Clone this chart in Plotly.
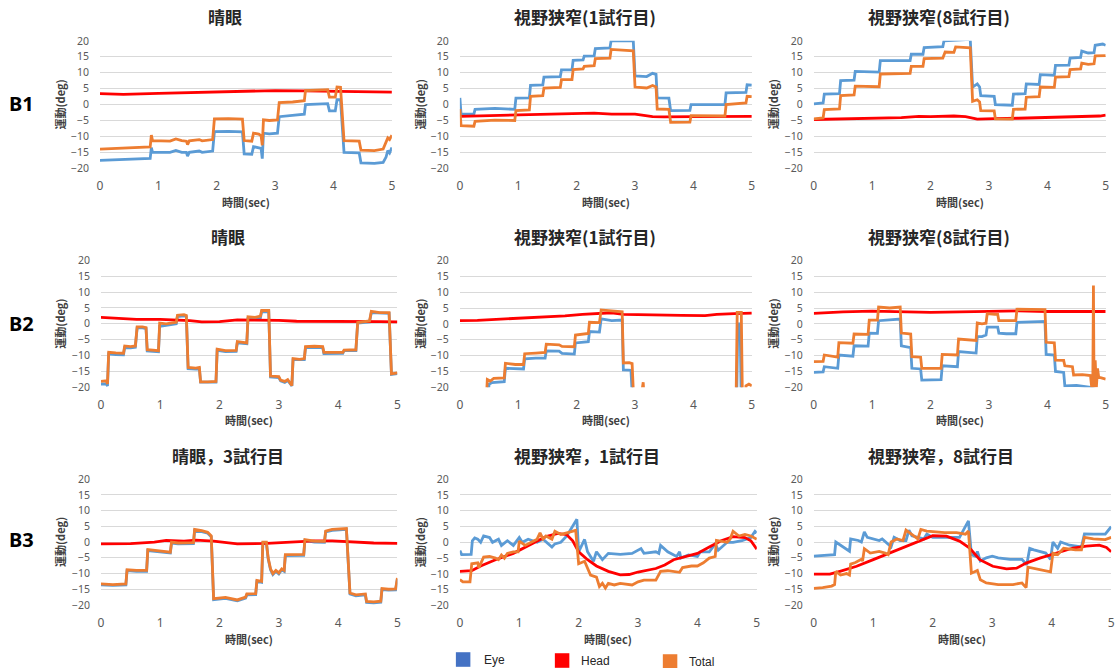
import plotly.graph_objects as go

# ---------------------------------------------------------------------------
# Eye / Head / Total rotation traces (deg) against time (sec), as (t, value)
# ---------------------------------------------------------------------------

# B1 - 晴眼
b1_sighted_eye = [(0, -17.5), (0.3, -17.3), (0.6, -17.0), (0.86, -16.9), (0.88, -13.5), (0.9, -15.0),
                  (1.2, -15.0), (1.3, -14.4), (1.4, -15.0), (1.48, -15.0), (1.5, -16.2), (1.53, -15.0),
                  (1.7, -14.6), (1.75, -15.0), (1.93, -14.6), (1.96, -8.5), (2.2, -8.4), (2.44, -8.6),
                  (2.47, -15.5), (2.6, -15.6), (2.63, -13.2), (2.72, -13.5), (2.76, -13.8), (2.78, -17.0),
                  (2.8, -9.0), (2.9, -9.2), (3.04, -9.0), (3.07, -3.8), (3.3, -3.4), (3.5, -3.0),
                  (3.52, 0.0), (3.7, 0.2), (3.9, 0.3), (3.93, -2.0), (4.03, -2.0), (4.06, 1.5),
                  (4.12, 1.5), (4.18, -15.0), (4.3, -15.2), (4.44, -15.2), (4.47, -18.3), (4.7, -18.5),
                  (4.85, -18.2), (4.9, -16.5), (4.93, -14.5), (4.96, -15.2), (5.0, -13.5)]
b1_sighted_head = [(0, 3.4), (0.4, 3.2), (1.0, 3.5), (2.0, 3.9), (3.0, 4.4), (3.5, 4.3), (4.0, 4.2),
                   (4.5, 4.0), (5, 3.9)]
b1_sighted_total = [(0, -14.0), (0.3, -13.8), (0.6, -13.5), (0.86, -13.3), (0.88, -9.6), (0.9, -11.3),
                    (1.2, -11.5), (1.3, -10.8), (1.4, -11.3), (1.48, -11.5), (1.5, -12.6), (1.53, -11.4),
                    (1.7, -11.0), (1.75, -11.4), (1.93, -11.0), (1.96, -4.5), (2.2, -4.4), (2.44, -4.6),
                    (2.47, -11.3), (2.6, -11.5), (2.63, -9.0), (2.72, -9.3), (2.76, -9.8), (2.78, -12.8),
                    (2.8, -4.8), (2.9, -5.0), (3.04, -4.8), (3.07, 0.6), (3.3, 0.8), (3.5, 1.2),
                    (3.52, 4.4), (3.7, 4.5), (3.9, 4.7), (3.93, 2.3), (4.03, 2.3), (4.06, 5.5),
                    (4.12, 5.4), (4.18, -11.3), (4.3, -11.4), (4.44, -11.5), (4.47, -14.3), (4.7, -14.5),
                    (4.85, -14.0), (4.9, -11.5), (4.93, -10.5), (4.96, -11.0), (5.0, -9.6)]

# B1 - 視野狭窄(1試行目)
b1_narrow1_eye = [(0, 2.1), (0.02, -3.0), (0.24, -3.0), (0.26, -1.5), (0.6, -1.2), (0.94, -1.5), (0.96, 2.0),
                  (1.19, 2.1), (1.21, 6.0), (1.42, 6.2), (1.44, 8.6), (1.72, 8.8), (1.74, 10.9), (1.92, 10.9),
                  (1.94, 13.9), (2.11, 14.0), (2.13, 15.2), (2.3, 15.3), (2.32, 17.6), (2.57, 17.8),
                  (2.59, 20.0), (2.97, 20.0), (3.0, 9.0), (3.2, 8.8), (3.3, 9.8), (3.36, 9.5), (3.38, 2.1),
                  (3.58, 2.0), (3.61, -1.9), (3.94, -1.8), (3.96, 0.0), (4.3, 0.1), (4.54, 0.0), (4.56, 3.7),
                  (4.9, 3.8), (4.92, 6.2), (5, 6.1)]
b1_narrow1_head = [(0, -3.7), (0.5, -3.5), (1.0, -3.4), (1.5, -3.2), (2.0, -2.9), (2.3, -2.7), (2.6, -3.0),
                   (3.0, -3.0), (3.3, -3.8), (3.5, -3.9), (4.0, -3.8), (4.5, -3.7), (5, -3.7)]
b1_narrow1_total = [(0, -1.4), (0.02, -6.6), (0.24, -6.8), (0.26, -5.3), (0.6, -4.9), (0.94, -5.0),
                    (0.96, -1.9), (1.19, -1.7), (1.21, 2.6), (1.42, 2.8), (1.44, 5.2), (1.72, 5.4),
                    (1.74, 7.8), (1.92, 7.8), (1.94, 11.0), (2.11, 11.2), (2.13, 12.0), (2.3, 12.2),
                    (2.32, 14.4), (2.57, 14.6), (2.59, 17.3), (2.97, 16.9), (3.0, 5.5), (3.2, 5.2),
                    (3.3, 6.0), (3.36, 5.5), (3.38, -1.4), (3.58, -1.5), (3.61, -5.6), (3.94, -5.5),
                    (3.96, -3.5), (4.3, -3.6), (4.54, -3.6), (4.56, 0.0), (4.9, 0.5), (4.92, 2.6), (5, 2.5)]

# B1 - 視野狭窄(8試行目)
b1_narrow8_eye = [(0, 0.2), (0.16, 0.5), (0.18, 3.3), (0.44, 3.4), (0.46, 7.5), (0.69, 7.7), (0.71, 10.4),
                  (1.12, 10.2), (1.14, 13.8), (1.65, 13.8), (1.67, 15.8), (1.87, 15.8), (1.89, 17.9),
                  (2.21, 18.2), (2.23, 20.0), (2.4, 20.2), (2.68, 20.5), (2.72, 5.5), (2.8, 6.5),
                  (2.84, 5.5), (2.86, 2.8), (3.09, 2.6), (3.11, 0.0), (3.4, -0.2), (3.42, 3.3), (3.62, 3.4),
                  (3.64, 6.5), (3.86, 6.3), (3.88, 9.4), (4.12, 9.2), (4.14, 12.3), (4.37, 12.4),
                  (4.39, 14.6), (4.57, 14.8), (4.59, 16.8), (4.7, 16.2), (4.8, 16.3), (4.82, 18.6),
                  (4.95, 19.0), (5, 18.6)]
b1_narrow8_head = [(0, -4.7), (0.5, -4.5), (1.0, -4.4), (1.5, -4.1), (1.8, -3.7), (2.0, -3.8), (2.4, -3.6),
                   (2.6, -3.8), (2.8, -4.6), (2.9, -4.6), (3.1, -4.4), (3.5, -4.3), (4.0, -4.0), (4.5, -3.8),
                   (4.9, -3.6), (5, -3.3)]
b1_narrow8_total = [(0, -4.5), (0.16, -4.2), (0.18, -1.6), (0.44, -1.4), (0.46, 2.8), (0.69, 3.0),
                    (0.71, 5.8), (1.12, 5.6), (1.14, 9.6), (1.65, 9.8), (1.67, 12.0), (1.87, 12.0),
                    (1.89, 14.4), (2.21, 14.6), (2.25, 16.5), (2.4, 16.4), (2.43, 18.1), (2.68, 17.8),
                    (2.72, 1.0), (2.8, 1.5), (2.84, 0.8), (2.86, -1.9), (3.09, -2.0), (3.11, -4.5),
                    (3.4, -4.6), (3.42, -1.5), (3.62, -1.4), (3.64, 2.3), (3.86, 2.5), (3.88, 5.5),
                    (4.12, 5.4), (4.14, 8.6), (4.37, 8.8), (4.39, 11.0), (4.57, 11.2), (4.59, 13.0),
                    (4.7, 12.6), (4.8, 12.8), (4.82, 15.3), (5, 15.4)]

# B2 - 晴眼
b2_sighted_eye = [(0, -19.0), (0.09, -19.0), (0.11, -19.6), (0.13, -9.5), (0.25, -9.7), (0.38, -9.8),
                  (0.4, -7.5), (0.5, -7.6), (0.58, -7.4), (0.61, -1.3), (0.7, -1.3), (0.76, -1.5),
                  (0.78, -8.6), (0.9, -8.7), (0.97, -8.8), (0.99, -0.8), (1.1, -0.4), (1.27, 0.0),
                  (1.29, 2.3), (1.4, 2.5), (1.44, 2.3), (1.47, -14.2), (1.6, -14.3), (1.66, -14.2),
                  (1.68, -18.4), (1.8, -18.5), (1.94, -18.4), (1.96, -8.4), (2.1, -8.8), (2.28, -8.7),
                  (2.3, -6.0), (2.46, -6.3), (2.48, 1.7), (2.6, 1.6), (2.69, 1.9), (2.71, 3.8),
                  (2.83, 3.8), (2.86, -16.8), (3.0, -17.0), (3.03, -18.0), (3.1, -18.5), (3.15, -17.9),
                  (3.2, -19.0), (3.22, -19.6), (3.24, -11.3), (3.35, -11.4), (3.43, -11.3), (3.45, -7.5),
                  (3.6, -7.4), (3.74, -7.5), (3.76, -9.4), (3.9, -9.4), (4.08, -9.3), (4.1, -8.5),
                  (4.3, -8.5), (4.33, 0.2), (4.45, 0.4), (4.53, 0.6), (4.56, 3.5), (4.7, 3.3),
                  (4.86, 3.3), (4.9, -16.0), (5, -15.7)]
b2_sighted_head = [(0, 2.0), (0.3, 1.8), (0.6, 1.4), (1.0, 1.4), (1.3, 1.3), (1.5, 1.0), (1.7, 0.6),
                   (2.0, 0.7), (2.3, 1.2), (2.7, 1.2), (3.0, 1.1), (3.3, 0.8), (3.7, 0.8), (4.0, 0.9),
                   (4.4, 0.8), (4.7, 0.7), (5, 0.6)]
b2_sighted_total = [(0, -18.2), (0.09, -18.0), (0.11, -19.0), (0.13, -9.0), (0.25, -9.2), (0.38, -9.3),
                    (0.4, -7.0), (0.5, -7.2), (0.58, -7.0), (0.61, -1.0), (0.7, -1.0), (0.76, -1.2),
                    (0.78, -8.2), (0.9, -8.3), (0.97, -8.5), (0.99, 0.2), (1.1, 0.0), (1.27, 0.5),
                    (1.29, 2.7), (1.4, 2.9), (1.44, 2.6), (1.47, -13.8), (1.6, -14.0), (1.66, -13.8),
                    (1.68, -18.3), (1.8, -18.3), (1.94, -18.2), (1.96, -8.0), (2.1, -8.5), (2.28, -8.4),
                    (2.3, -5.6), (2.46, -6.0), (2.48, 2.2), (2.6, 2.0), (2.69, 2.4), (2.71, 4.2),
                    (2.83, 4.2), (2.86, -16.5), (3.0, -16.7), (3.03, -17.8), (3.1, -18.2), (3.15, -17.6),
                    (3.2, -18.8), (3.22, -19.5), (3.24, -11.0), (3.35, -11.2), (3.43, -11.0), (3.45, -7.2),
                    (3.6, -7.1), (3.74, -7.2), (3.76, -9.0), (3.9, -9.1), (4.08, -9.0), (4.1, -8.3),
                    (4.3, -8.2), (4.33, 0.4), (4.45, 0.7), (4.53, 0.9), (4.56, 3.9), (4.7, 3.5),
                    (4.86, 3.5), (4.9, -15.8), (5, -15.5)]

# B2 - 視野狭窄(1試行目)
b2_narrow1_eye = [(0, -25), (0.47, -25), (0.5, -19.0), (0.55, -18.5), (0.76, -18.2), (0.78, -14.0),
                  (1.09, -14.2), (1.11, -11.0), (1.3, -10.8), (1.46, -10.8), (1.48, -8.5), (1.7, -8.6),
                  (1.75, -9.3), (1.96, -9.5), (1.98, -6.0), (2.2, -5.6), (2.22, -2.4), (2.39, -2.6),
                  (2.42, 1.6), (2.6, 1.0), (2.78, 1.2), (2.8, -14.5), (2.93, -14.6), (2.96, -25),
                  (4.74, -25), (4.76, 0.0), (4.8, 0.0), (4.82, -25), (5, -25)]
b2_narrow1_head = [(0, 1.0), (0.3, 1.1), (0.7, 1.5), (1.0, 1.8), (1.5, 2.1), (1.8, 2.5), (2.1, 3.0),
                   (2.4, 3.3), (2.6, 3.5), (2.8, 3.0), (3.2, 2.8), (3.8, 2.7), (4.2, 2.6), (4.4, 3.0),
                   (4.7, 3.2), (5, 3.4)]
b2_narrow1_total = [(0, -25), (0.45, -25), (0.47, -17.5), (0.52, -18.0), (0.58, -17.2), (0.76, -17.0),
                    (0.78, -12.4), (0.95, -12.8), (1.09, -12.8), (1.11, -9.4), (1.3, -9.2), (1.46, -9.0),
                    (1.48, -6.4), (1.7, -6.6), (1.75, -7.1), (1.96, -7.2), (1.98, -3.5), (2.1, -3.3),
                    (2.2, -3.0), (2.22, 0.5), (2.39, 0.4), (2.42, 4.4), (2.6, 4.0), (2.78, 3.8),
                    (2.8, -12.3), (2.9, -12.2), (2.95, -12.5), (2.98, -25), (3.12, -21), (3.14, -18.4),
                    (3.16, -25), (4.73, -25), (4.75, 3.6), (4.82, 3.6), (4.84, -25), (4.88, -25),
                    (4.9, -19.5), (4.95, -19.0), (5, -19.5)]

# B2 - 視野狭窄(8試行目)
b2_narrow8_eye = [(0, -15.3), (0.16, -15.1), (0.18, -13.5), (0.3, -13.8), (0.41, -14.0), (0.43, -9.8),
                  (0.6, -10.0), (0.67, -10.2), (0.69, -6.9), (0.8, -7.0), (0.93, -7.0), (0.95, -2.9),
                  (1.09, -3.0), (1.11, 1.0), (1.3, 1.2), (1.48, 1.5), (1.5, -6.9), (1.6, -7.2),
                  (1.66, -7.5), (1.68, -14.0), (1.83, -14.2), (1.85, -17.7), (2.0, -17.6), (2.18, -17.6),
                  (2.2, -13.2), (2.35, -13.3), (2.46, -13.5), (2.48, -8.7), (2.65, -9.0), (2.78, -9.2),
                  (2.8, -4.0), (2.88, -4.0), (2.95, -3.5), (2.97, -1.0), (3.15, -1.0), (3.17, -2.9),
                  (3.3, -3.1), (3.46, -3.1), (3.48, 0.5), (3.7, 0.6), (3.96, 0.8), (3.98, -9.6),
                  (4.12, -9.8), (4.14, -15.0), (4.28, -15.3), (4.3, -19.5), (4.5, -19.4), (4.74, -20.0),
                  (4.8, -20.5), (4.9, -21.0), (5, -22.0)]
b2_narrow8_head = [(0, 3.3), (0.5, 3.8), (1.0, 4.0), (1.5, 3.8), (2.0, 3.6), (2.5, 3.8), (3.0, 4.0),
                   (3.5, 4.1), (4.0, 3.9), (4.5, 3.8), (5, 3.9)]
b2_narrow8_total = [(0, -11.9), (0.16, -11.8), (0.18, -9.8), (0.3, -10.2), (0.41, -10.5), (0.43, -5.9),
                    (0.6, -6.0), (0.67, -6.1), (0.69, -3.2), (0.8, -3.2), (0.93, -3.3), (0.95, 1.2),
                    (1.09, 1.2), (1.11, 5.3), (1.3, 5.0), (1.48, 5.3), (1.5, -2.9), (1.6, -3.1),
                    (1.66, -3.2), (1.68, -10.3), (1.83, -10.5), (1.85, -14.0), (2.0, -14.0), (2.18, -14.0),
                    (2.2, -9.6), (2.35, -9.8), (2.46, -9.8), (2.48, -4.8), (2.65, -5.0), (2.78, -5.2),
                    (2.8, 0.3), (2.88, 0.0), (2.95, 0.2), (2.97, 3.2), (3.1, 3.0), (3.15, 3.0),
                    (3.17, 1.0), (3.3, 1.0), (3.46, 1.0), (3.48, 4.6), (3.7, 4.6), (3.96, 4.5),
                    (3.98, -5.8), (4.1, -6.0), (4.12, -6.0), (4.14, -11.4), (4.28, -11.5), (4.3, -13.2),
                    (4.43, -13.5), (4.45, -16.1), (4.6, -16.0), (4.74, -16.3), (4.76, -20.0), (4.78, -16.0),
                    (4.79, 12.1), (4.8, -20.0), (4.82, -11.5), (4.84, -20.0), (4.86, -14.0), (4.88, -16.8),
                    (5, -17.4)]

# B3 - 晴眼，3試行目
b3_sighted_eye = [(0, -13.6), (0.2, -13.8), (0.42, -13.6), (0.44, -9.1), (0.6, -9.3), (0.77, -9.3),
                  (0.79, -2.7), (1.0, -3.2), (1.17, -3.5), (1.19, -0.3), (1.3, -0.6), (1.56, -0.5),
                  (1.58, 3.7), (1.7, 3.3), (1.8, 2.8), (1.86, 1.7), (1.9, -18.3), (2.1, -17.9),
                  (2.3, -18.7), (2.44, -17.8), (2.46, -16.8), (2.61, -16.7), (2.63, -12.5), (2.71, -12.8),
                  (2.73, -0.3), (2.79, -0.3), (2.82, -5.3), (2.86, -8.8), (2.9, -10.3), (2.95, -9.3),
                  (3.0, -10.1), (3.05, -8.8), (3.09, -9.3), (3.11, -4.3), (3.3, -4.1), (3.42, -4.2),
                  (3.44, 0.5), (3.6, 0.0), (3.77, -0.1), (3.79, 3.2), (3.9, 3.7), (4.14, 4.0),
                  (4.2, -16.5), (4.3, -17.1), (4.46, -16.8), (4.48, -19.2), (4.6, -19.3), (4.72, -19.1),
                  (4.74, -15.1), (4.85, -15.3), (4.97, -15.2), (5, -11.7)]
b3_sighted_head = [(0, -0.6), (0.5, -0.5), (0.9, 0.0), (1.1, 0.5), (1.4, 0.3), (1.6, 0.6), (1.9, 0.3),
                   (2.3, -0.6), (2.8, -0.4), (3.3, 0.0), (3.6, 0.4), (3.9, 0.4), (4.3, 0.0), (4.6, -0.3),
                   (5, -0.4)]
b3_sighted_total = [(0, -13.3), (0.2, -13.5), (0.42, -13.3), (0.44, -8.8), (0.6, -9.0), (0.77, -9.0),
                    (0.79, -2.4), (1.0, -2.9), (1.17, -3.2), (1.19, 0.0), (1.3, -0.3), (1.56, -0.2),
                    (1.58, 4.0), (1.7, 3.6), (1.8, 3.1), (1.86, 2.0), (1.9, -18.0), (2.1, -17.6),
                    (2.3, -18.4), (2.44, -17.5), (2.46, -16.5), (2.61, -16.4), (2.63, -12.2), (2.71, -12.5),
                    (2.73, 0.0), (2.79, 0.0), (2.82, -5.0), (2.86, -8.5), (2.9, -10.0), (2.95, -9.0),
                    (3.0, -9.8), (3.05, -8.5), (3.09, -9.0), (3.11, -4.0), (3.3, -3.8), (3.42, -3.9),
                    (3.44, 0.8), (3.6, 0.3), (3.77, 0.2), (3.79, 3.5), (3.9, 4.0), (4.14, 4.3),
                    (4.2, -16.2), (4.3, -16.8), (4.46, -16.5), (4.48, -18.9), (4.6, -19.0), (4.72, -18.8),
                    (4.74, -14.8), (4.85, -15.0), (4.97, -14.9), (5, -11.4)]

# B3 - 視野狭窄，1試行目
b3_narrow1_eye = [(0, -2.6), (0.03, -3.9), (0.19, -3.8), (0.21, 0.5), (0.25, 1.4), (0.3, 1.0), (0.35, 0.0),
                  (0.4, 2.0), (0.5, 1.5), (0.55, 0.0), (0.65, 1.0), (0.7, -1.0), (0.8, 0.5), (0.9, -1.0),
                  (1.0, 1.5), (1.05, 0.0), (1.15, 1.0), (1.3, 0.0), (1.4, 1.0), (1.5, -0.5), (1.55, -1.5),
                  (1.6, -0.5), (1.7, 0.0), (1.8, 2.0), (1.9, 5.0), (1.97, 7.3), (2.0, -3.0), (2.05, -1.0),
                  (2.1, 0.9), (2.15, -3.0), (2.25, -6.0), (2.3, -3.0), (2.4, -5.5), (2.5, -3.5),
                  (2.7, -3.8), (2.9, -3.5), (3.05, -2.0), (3.1, -3.5), (3.3, -3.0), (3.35, -3.5),
                  (3.38, -1.0), (3.5, -3.0), (3.65, -4.5), (3.7, -3.0), (3.72, -5.0), (3.85, -4.0),
                  (4.0, -4.5), (4.05, -3.0), (4.2, -3.0), (4.3, -0.5), (4.35, -2.5), (4.5, 0.0),
                  (4.6, 0.0), (4.75, 0.5), (4.9, 1.5), (4.97, 3.5), (5, 3.0)]
b3_narrow1_head = [(0, -9.2), (0.2, -9.0), (0.35, -7.5), (0.6, -5.5), (0.9, -3.5), (1.2, -0.5), (1.45, 1.8),
                   (1.65, 2.8), (1.8, 2.4), (1.9, 0.5), (2.0, -3.0), (2.15, -5.5), (2.3, -7.5), (2.5, -9.2),
                   (2.7, -10.3), (2.85, -10.2), (3.0, -9.4), (3.3, -8.3), (3.45, -7.2), (3.6, -5.5),
                   (3.8, -4.5), (4.0, -3.5), (4.2, -1.5), (4.4, 0.5), (4.6, 1.8), (4.8, 1.5), (4.9, 0.5),
                   (5.0, -2.2)]
b3_narrow1_total = [(0, -11.8), (0.05, -12.5), (0.17, -12.5), (0.2, -6.8), (0.3, -6.5), (0.32, -8.0),
                    (0.4, -4.7), (0.5, -4.5), (0.6, -5.0), (0.65, -5.5), (0.7, -4.0), (0.75, -5.0),
                    (0.8, -3.5), (0.9, -3.0), (0.98, -3.0), (1.0, 0.4), (1.1, -1.0), (1.2, 0.0),
                    (1.3, 1.0), (1.35, 3.0), (1.4, 1.0), (1.45, 2.0), (1.55, 1.0), (1.6, 3.5), (1.7, 2.5),
                    (1.8, 3.0), (1.95, 3.8), (2.0, -6.8), (2.1, -6.0), (2.2, -10.4), (2.3, -11.0),
                    (2.35, -14.0), (2.4, -13.0), (2.45, -14.5), (2.5, -13.0), (2.6, -13.5), (2.7, -13.0),
                    (2.9, -13.5), (3.0, -12.5), (3.1, -12.0), (3.3, -12.0), (3.38, -9.2), (3.5, -9.0),
                    (3.7, -9.5), (3.75, -8.0), (3.9, -7.5), (4.0, -7.5), (4.1, -6.5), (4.2, -5.0),
                    (4.3, -4.5), (4.32, 0.6), (4.5, 0.0), (4.55, 1.0), (4.6, 3.5), (4.7, 2.0),
                    (4.8, 2.5), (4.9, 2.0), (5, 1.0)]

# B3 - 視野狭窄，8試行目
b3_narrow8_eye = [(0, -4.5), (0.2, -4.3), (0.35, -4.0), (0.37, 0.0), (0.45, -1.0), (0.55, -2.0), (0.6, -2.9),
                  (0.62, 1.0), (0.75, 0.5), (0.8, 0.0), (0.85, 3.2), (0.9, 1.5), (1.0, 1.0), (1.1, 0.5),
                  (1.15, 1.0), (1.25, -0.5), (1.3, -1.5), (1.35, 1.5), (1.45, 0.5), (1.55, 0.5),
                  (1.6, 3.8), (1.65, 2.0), (1.75, 1.5), (1.85, 1.0), (1.9, 2.5), (2.0, 1.5), (2.2, 1.5),
                  (2.45, 1.5), (2.55, 5.0), (2.6, 6.7), (2.65, -4.0), (2.72, -4.5), (2.75, -3.0),
                  (2.8, -6.0), (2.9, -5.0), (3.0, -4.5), (3.1, -5.0), (3.3, -5.5), (3.5, -5.5),
                  (3.58, -7.2), (3.63, -2.0), (3.7, -2.5), (3.9, -3.5), (3.98, -5.5), (4.02, 0.0),
                  (4.1, -2.0), (4.15, 0.0), (4.3, -1.0), (4.5, -1.5), (4.55, 2.6), (4.7, 2.5),
                  (4.9, 2.5), (5.0, 4.9)]
b3_narrow8_head = [(0, -10.2), (0.27, -10.2), (0.44, -9.3), (0.72, -7.7), (1.0, -5.6), (1.28, -3.5),
                   (1.56, -1.3), (1.84, 0.8), (2.0, 2.0), (2.23, 1.9), (2.45, 0.3), (2.62, -1.9),
                   (2.79, -5.6), (3.01, -7.7), (3.24, -8.5), (3.41, -8.3), (3.57, -6.7), (3.8, -5.1),
                   (4.08, -3.5), (4.36, -1.9), (4.58, -1.3), (4.8, -1.0), (4.92, -1.7), (5.0, -3.1)]
b3_narrow8_total = [(0, -14.7), (0.15, -14.5), (0.3, -14.0), (0.35, -13.5), (0.37, -9.3), (0.45, -10.5),
                    (0.55, -10.0), (0.6, -10.5), (0.62, -7.0), (0.7, -6.5), (0.8, -5.5), (0.82, -6.0),
                    (0.85, -2.1), (0.95, -3.5), (1.1, -3.0), (1.2, -3.5), (1.25, -4.0), (1.3, 0.0),
                    (1.4, 1.0), (1.5, 0.5), (1.55, 3.8), (1.65, 2.5), (1.75, 1.0), (1.8, 4.0), (1.9, 3.5),
                    (2.2, 3.0), (2.4, 3.0), (2.55, 2.5), (2.6, 3.5), (2.65, -9.9), (2.75, -9.0),
                    (2.8, -12.0), (2.9, -13.0), (3.1, -13.5), (3.35, -13.5), (3.5, -13.0), (3.57, -14.5),
                    (3.6, -8.0), (3.75, -8.5), (3.9, -9.0), (3.98, -9.5), (4.02, -3.5), (4.1, -4.0),
                    (4.2, -2.0), (4.4, -2.5), (4.5, -2.5), (4.55, 1.5), (4.7, 1.0), (4.9, 0.8), (5, 1.5)]

# Panel order: rows B1..B3, columns 晴眼 / 視野狭窄 1st / 視野狭窄 8th
panel_titles = ["晴眼", "視野狭窄(1試行目)", "視野狭窄(8試行目)",
                "晴眼", "視野狭窄(1試行目)", "視野狭窄(8試行目)",
                "晴眼，3試行目", "視野狭窄，1試行目", "視野狭窄，8試行目"]
row_labels = ["B1", "B2", "B3"]
series_names = ["Eye", "Head", "Total"]
x_ticks = [0, 1, 2, 3, 4, 5]
y_ticks = [-20, -15, -10, -5, 0, 5, 10, 15, 20]

panel_series = [
    (b1_sighted_eye, b1_sighted_head, b1_sighted_total),
    (b1_narrow1_eye, b1_narrow1_head, b1_narrow1_total),
    (b1_narrow8_eye, b1_narrow8_head, b1_narrow8_total),
    (b2_sighted_eye, b2_sighted_head, b2_sighted_total),
    (b2_narrow1_eye, b2_narrow1_head, b2_narrow1_total),
    (b2_narrow8_eye, b2_narrow8_head, b2_narrow8_total),
    (b3_sighted_eye, b3_sighted_head, b3_sighted_total),
    (b3_narrow1_eye, b3_narrow1_head, b3_narrow1_total),
    (b3_narrow8_eye, b3_narrow8_head, b3_narrow8_total),
]

# ---------------------------------------------------------------------------
# Layout geometry, in screen pixels of the 1117 x 668 output
# ---------------------------------------------------------------------------
W, H = 1117, 668
# screen calibration: screen = offset + scale * figure pixel
CAL_X0, CAL_SX = 3.0, 0.994
CAL_Y0, CAL_SY = 8.6, 0.974

# plot-area boxes: left, right, top (y=20), bottom (y=-20)
plot_boxes = [
    (100, 392, 42.3, 169.0), (460, 752, 42.3, 169.0), (814, 1106, 42.3, 169.0),
    (101, 397.5, 260.7, 386.8), (460, 752, 260.7, 387.0), (814, 1106, 260.7, 387.0),
    (101, 397.5, 478.3, 603.5), (460, 757, 478.3, 604.0), (814, 1111.5, 478.3, 603.5),
]
title_y = [18, 237, 455]
xtitle_y = [203, 419, 637]
ytitle_x = [60, 420, 773]
row_label_y = [105, 323, 538]

line_colors = {"Eye": "#5B9BD5", "Head": "#FF0000", "Total": "#ED7D31"}
legend_colors = {"Eye": "#4472C4", "Head": "#FF0000", "Total": "#ED7D31"}

CJK = "Noto Sans CJK JP"
NUM = "Noto Sans"


def px_x(p):
    return ((p - CAL_X0) / CAL_SX) / W


def px_y(p):
    return 1 - ((p - CAL_Y0) / CAL_SY) / H


fig = go.Figure()
layout = dict(
    width=W, height=H, margin=dict(l=0, r=0, t=0, b=0),
    paper_bgcolor="white", plot_bgcolor="white", showlegend=False,
)
annotations = []
shapes = []

for i, (series, box) in enumerate(zip(panel_series, plot_boxes)):
    n = i + 1
    xa = "x" if n == 1 else f"x{n}"
    ya = "y" if n == 1 else f"y{n}"
    for name, pts in zip(series_names, series):
        fig.add_trace(go.Scatter(
            x=[p[0] for p in pts], y=[p[1] for p in pts], mode="lines", name=name,
            line=dict(color=line_colors[name], width=2.8), xaxis=xa, yaxis=ya,
            hoverinfo="skip",
        ))
    left, right, top, bottom = box
    layout[f"xaxis{'' if n == 1 else n}"] = dict(
        domain=[px_x(left), px_x(right)], range=[0, 5], anchor=ya,
        tickvals=x_ticks, showgrid=False, zeroline=False, showline=False,
        ticks="", ticklabelstandoff=9,
        tickfont=dict(family=NUM, size=12, color="#595959"),
    )
    layout[f"yaxis{'' if n == 1 else n}"] = dict(
        domain=[px_y(bottom), px_y(top)], range=[-20, 20], anchor=xa,
        tickvals=y_ticks, showgrid=True, gridcolor="#D9D9D9", gridwidth=1,
        zeroline=False, showline=False, ticks="", ticklabelstandoff=10,
        tickfont=dict(family=NUM, size=10.5, color="#595959"),
    )
    row, col = divmod(i, 3)
    # panel title, centred on the chart area (a little left of the plot area)
    annotations.append(dict(
        text=f"<b>{panel_titles[i]}</b>", x=px_x((left + right) / 2 - 21), y=px_y(title_y[row]),
        xref="paper", yref="paper", showarrow=False, xanchor="center", yanchor="middle",
        font=dict(family=CJK, size=17, color="#262626"),
    ))
    annotations.append(dict(
        text="<b>時間(sec)</b>", x=px_x((left + right) / 2), y=px_y(xtitle_y[row]),
        xref="paper", yref="paper", showarrow=False, xanchor="center", yanchor="middle",
        font=dict(family=CJK, size=11, color="#404040"),
    ))
    annotations.append(dict(
        text="<b>運動(deg)</b>", x=px_x(ytitle_x[col]), y=px_y((top + bottom) / 2),
        xref="paper", yref="paper", showarrow=False, xanchor="center", yanchor="middle",
        textangle=-90, font=dict(family=CJK, size=11, color="#404040"),
    ))

for r, lab in enumerate(row_labels):
    annotations.append(dict(
        text=f"<b>{lab}</b>", x=px_x(22), y=px_y(row_label_y[r]), xref="paper", yref="paper",
        showarrow=False, xanchor="center", yanchor="middle",
        font=dict(family=NUM, size=20, color="#000000"),
    ))

# legend: coloured squares with labels along the bottom
legend_items = [("Eye", 456, 482, 658), ("Head", 555, 579, 659), ("Total", 663, 687, 660)]
for name, sq_x, txt_x, cy in legend_items:
    shapes.append(dict(
        type="rect", xref="paper", yref="paper",
        x0=px_x(sq_x), x1=px_x(sq_x + 14.5), y0=px_y(cy + 7), y1=px_y(cy - 7.5),
        fillcolor=legend_colors[name], line=dict(width=0),
    ))
    annotations.append(dict(
        text=name, x=px_x(txt_x), y=px_y(cy), xref="paper", yref="paper",
        showarrow=False, xanchor="left", yanchor="middle",
        font=dict(family="Liberation Sans", size=12, color="#262626"),
    ))

layout["annotations"] = annotations
layout["shapes"] = shapes
fig.update_layout(**layout)
fig.write_html("out.html")
